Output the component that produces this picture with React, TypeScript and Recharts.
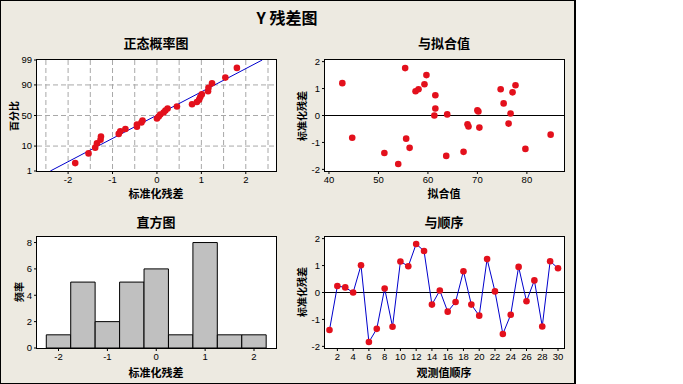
import {
  ScatterChart,
  Scatter,
  BarChart,
  Bar,
  LineChart,
  Line,
  XAxis,
  YAxis,
  CartesianGrid,
  ReferenceLine,
} from 'recharts';

const orderNo = [1, 2, 3, 4, 5, 6, 7, 8, 9, 10, 11, 12, 13, 14, 15, 16, 17, 18, 19, 20, 21, 22, 23, 24, 25, 26, 27, 28, 29, 30];
const residuals = [
  -1.39, 0.24, 0.19, 0.0, 1.01, -1.84, -1.35, 0.15, -1.27, 1.15,
  0.975, 1.8, 1.54, -0.45, 0.075, -0.71, -0.35, 0.79, -0.45, -0.86,
  1.24, 0.04, -1.54, -0.825, 0.95, -0.325, 0.45, -1.26, 1.16, 0.9,
];

// fitted value vs standardized residual ("与拟合值")
const fitted = [
  42.7, 44.7, 51.2, 54.0, 55.4, 55.6, 56.3, 57.5, 58.1, 59.3,
  59.7, 61.3, 61.5, 61.5, 63.7, 63.9, 67.2, 68.0, 68.2, 70.0,
  70.2, 70.4, 74.7, 75.3, 76.3, 76.7, 77.1, 77.7, 79.7, 84.8,
];
const fittedResid = [
  1.2, -0.825, -1.39, -1.8, 1.76, -0.86, -1.2, 0.9, 0.975, 1.16,
  1.5, 0.0, 0.26, 0.75, -1.5, 0.04, -1.35, -0.325, -0.41, 0.19,
  0.15, -0.45, 0.975, 0.45, -0.3, 0.075, 0.86, 1.125, -1.24, -0.71,
];

// percent positions on the normal probability plot
const probPercent = [
  2.3, 5.6, 8.9, 12.2, 15.5, 18.8, 22.0, 25.3, 28.6, 31.9,
  35.2, 38.5, 41.8, 45.1, 48.4, 51.6, 54.9, 58.2, 61.5, 64.8,
  68.1, 71.4, 74.7, 78.0, 81.2, 84.5, 87.8, 91.1, 94.4, 97.7,
];
const pctTicks = [1, 10, 50, 90, 99];
const pctGrid = [10, 50, 90];
const fitLineX = [-2.4, 2.37];
const fitLinePct = [1, 99];

// histogram
const histMid = [-2, -1.5, -1, -0.5, 0, 0.5, 1, 1.5, 2];
const histCount = [1, 5, 2, 5, 6, 1, 8, 1, 1];

const RED = '#e3101c';
const BLUE = '#0000cc';
const BG = '#edeae1';
const CJK = "'Noto Sans CJK SC', sans-serif";
const tickStyle = { fill: '#000', fontSize: 9.5, fontFamily: "'Liberation Sans', Arial, sans-serif" };

// inverse normal cdf (Acklam), used only for the probability axis scale
function probit(p: number): number {
  const a = [-39.69683028665376, 220.9460984245205, -275.9285104469687, 138.357751867269, -30.66479806614716, 2.506628277459239];
  const b = [-54.47609879822406, 161.5858368580409, -155.6989798598866, 66.80131188771972, -13.28068155288572];
  const c = [-0.007784894002430293, -0.3223964580411365, -2.400758277161838, -2.549732539343734, 4.374664141464968, 2.938163982698783];
  const d = [0.007784695709041462, 0.3224671290700398, 2.445134137142996, 3.754408661907416];
  const pl = 0.02425;
  if (p < pl) {
    const q = Math.sqrt(-2 * Math.log(p));
    return (((((c[0] * q + c[1]) * q + c[2]) * q + c[3]) * q + c[4]) * q + c[5]) / ((((d[0] * q + d[1]) * q + d[2]) * q + d[3]) * q + 1);
  }
  if (p > 1 - pl) {
    const q = Math.sqrt(-2 * Math.log(1 - p));
    return -(((((c[0] * q + c[1]) * q + c[2]) * q + c[3]) * q + c[4]) * q + c[5]) / ((((d[0] * q + d[1]) * q + d[2]) * q + d[3]) * q + 1);
  }
  const q = p - 0.5;
  const r = q * q;
  return ((((((a[0] * r + a[1]) * r + a[2]) * r + a[3]) * r + a[4]) * r + a[5]) * q) / (((((b[0] * r + b[1]) * r + b[2]) * r + b[3]) * r + b[4]) * r + 1);
}

const sorted = [...residuals].sort((x, y) => x - y);
const probData = sorted.map((v, i) => ({ x: v, y: probit(probPercent[i] / 100) }));
const probLine = fitLineX.map((v, i) => ({ x: v, y: probit(fitLinePct[i] / 100) }));
const fitsData = fitted.map((v, i) => ({ x: v, y: fittedResid[i] }));
const orderData = orderNo.map((n, i) => ({ x: n, y: residuals[i] }));
const histData = histMid.map((m, i) => ({ mid: m, count: histCount[i] }));

// plot boxes in page pixels
const boxes = {
  prob: { x: 37, y: 60, w: 239, h: 111 },
  fits: { x: 325, y: 60, w: 239, h: 111 },
  hist: { x: 37, y: 237, w: 239, h: 111 },
  order: { x: 325, y: 237, w: 239, h: 111 },
};
const L = 40, T = 6, R = 6, B = 24;

type Box = { x: number; y: number; w: number; h: number };

function Frame({ box }: { box: Box }) {
  return (
    <div
      style={{
        position: 'absolute',
        left: box.x - 1,
        top: box.y - 1,
        width: box.w + 2,
        height: box.h + 2,
        boxSizing: 'border-box',
        border: '1px solid #000',
        background: '#fff',
      }}
    />
  );
}

function place(box: Box) {
  return { position: 'absolute' as const, left: box.x - L, top: box.y - T };
}

const dot = (p: any) => <circle cx={p.cx} cy={p.cy} r={3.3} fill={RED} />;

export default function App() {
  const pb = boxes.prob, fb = boxes.fits, hb = boxes.hist, ob = boxes.order;
  const axisCommon = { axisLine: false, tickSize: 3, tickLine: { stroke: '#000' }, tick: tickStyle, interval: 0 as const };
  const lab = { fontFamily: CJK, fontWeight: 700, fill: '#000' };

  return (
    <div style={{ position: 'absolute', left: 0, top: 0, width: 683, height: 384, background: '#fff' }}>
      <div
        style={{
          position: 'absolute',
          left: 0,
          top: 0,
          width: 576,
          height: 384,
          boxSizing: 'border-box',
          background: BG,
          borderTop: '1px solid #000',
          borderLeft: '1px solid #000',
          borderRight: '2px solid #000',
          borderBottom: '1px solid #000',
        }}
      />
      <Frame box={pb} />
      <Frame box={fb} />
      <Frame box={hb} />
      <Frame box={ob} />

      {/* 正态概率图 */}
      <div style={place(pb)}>
        <ScatterChart width={pb.w + L + R} height={pb.h + T + B} margin={{ top: T, right: R, left: 0, bottom: 0 }}>
          <CartesianGrid
            stroke="#a8a8a8"
            strokeDasharray="5 3"
            verticalValues={[-2.5, -2, -1.5, -1, -0.5, 0, 0.5, 1, 1.5, 2, 2.5]}
            horizontalValues={pctGrid.map((p) => probit(p / 100))}
          />
          <XAxis type="number" dataKey="x" domain={[-2.7, 2.68]} ticks={[-2, -1, 0, 1, 2]} height={B} tickMargin={2} allowDataOverflow {...axisCommon} />
          <YAxis
            type="number"
            dataKey="y"
            width={L}
            domain={[probit(0.01), probit(0.99)]}
            ticks={pctTicks.map((p) => probit(p / 100))}
            tickFormatter={(_v: number, i: number) => String(pctTicks[i])}
            allowDataOverflow
            tickMargin={2}
            {...axisCommon}
          />
          <Scatter data={probLine} line={{ stroke: BLUE, strokeWidth: 1 }} shape={() => <g />} isAnimationActive={false} />
          <Scatter data={probData} shape={dot} isAnimationActive={false} />
        </ScatterChart>
      </div>

      {/* 与拟合值 */}
      <div style={place(fb)}>
        <ScatterChart width={fb.w + L + R} height={fb.h + T + B} margin={{ top: T, right: R, left: 0, bottom: 0 }}>
          <XAxis type="number" dataKey="x" domain={[39.2, 87.5]} ticks={[40, 50, 60, 70, 80]} height={B} tickMargin={2} allowDataOverflow {...axisCommon} />
          <YAxis type="number" dataKey="y" width={L} domain={[-2.06, 2.06]} ticks={[-2, -1, 0, 1, 2]} allowDataOverflow tickMargin={2} {...axisCommon} />
          <ReferenceLine y={0} stroke="#000" strokeWidth={1} />
          <Scatter data={fitsData} shape={dot} isAnimationActive={false} />
        </ScatterChart>
      </div>

      {/* 直方图 */}
      <div style={place(hb)}>
        <BarChart width={hb.w + L + R} height={hb.h + T + B} data={histData} margin={{ top: T, right: R, left: 0, bottom: 0 }} barCategoryGap={0}>
          <XAxis type="number" dataKey="mid" domain={[-2.44, 2.45]} ticks={[-2, -1, 0, 1, 2]} height={B} tickMargin={2} allowDataOverflow {...axisCommon} />
          <YAxis type="number" width={L} domain={[0, 8.42]} ticks={[0, 2, 4, 6, 8]} allowDataOverflow tickMargin={2} {...axisCommon} />
          <Bar dataKey="count" fill="#c0c0c0" stroke="#000" strokeWidth={1} barSize={24.4} isAnimationActive={false} />
        </BarChart>
      </div>

      {/* 与顺序 */}
      <div style={place(ob)}>
        <LineChart width={ob.w + L + R} height={ob.h + T + B} data={orderData} margin={{ top: T, right: R, left: 0, bottom: 0 }}>
          <XAxis
            type="number"
            dataKey="x"
            domain={[0.43, 30.76]}
            ticks={[2, 4, 6, 8, 10, 12, 14, 16, 18, 20, 22, 24, 26, 28, 30]}
            height={B}
            tickMargin={2}
            allowDataOverflow
            {...axisCommon}
          />
          <YAxis type="number" width={L} domain={[-2.06, 2.06]} ticks={[-2, -1, 0, 1, 2]} allowDataOverflow tickMargin={2} {...axisCommon} />
          <ReferenceLine y={0} stroke="#000" strokeWidth={1} />
          <Line
            type="linear"
            dataKey="y"
            stroke={BLUE}
            strokeWidth={1}
            dot={{ r: 3.3, fill: RED, stroke: RED, strokeWidth: 0 }}
            activeDot={false}
            isAnimationActive={false}
          />
        </LineChart>
      </div>

      {/* titles and axis labels */}
      <svg width={683} height={384} style={{ position: 'absolute', left: 0, top: 0, pointerEvents: 'none' }}>
        <text x={287} y={24} textAnchor="middle" fontSize={16} {...lab}>Y  残差图</text>

        <text x={156} y={48} textAnchor="middle" fontSize={13} {...lab}>正态概率图</text>
        <text x={444} y={48} textAnchor="middle" fontSize={13} {...lab}>与拟合值</text>
        <text x={156} y={227} textAnchor="middle" fontSize={13} {...lab}>直方图</text>
        <text x={444} y={227} textAnchor="middle" fontSize={13} {...lab}>与顺序</text>

        <text x={156} y={198} textAnchor="middle" fontSize={11} {...lab}>标准化残差</text>
        <text x={444} y={198} textAnchor="middle" fontSize={11} {...lab}>拟合值</text>
        <text x={156} y={377} textAnchor="middle" fontSize={11} {...lab}>标准化残差</text>
        <text x={444} y={377} textAnchor="middle" fontSize={11} {...lab}>观测值顺序</text>

        <text x={13} y={116} transform="rotate(-90 13 116)" textAnchor="middle" dominantBaseline="central" fontSize={10} {...lab}>百分比</text>
        <text x={301} y={116} transform="rotate(-90 301 116)" textAnchor="middle" dominantBaseline="central" fontSize={10} {...lab}>标准化残差</text>
        <text x={18} y={292} transform="rotate(-90 18 292)" textAnchor="middle" dominantBaseline="central" fontSize={10} {...lab}>频率</text>
        <text x={301} y={292} transform="rotate(-90 301 292)" textAnchor="middle" dominantBaseline="central" fontSize={10} {...lab}>标准化残差</text>
      </svg>
    </div>
  );
}
